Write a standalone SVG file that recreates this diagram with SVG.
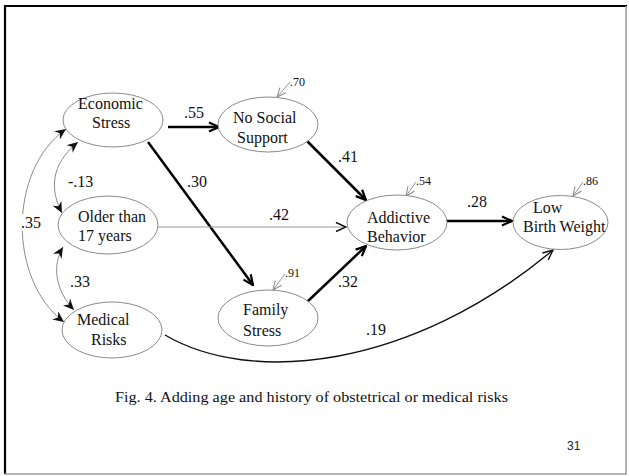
<svg xmlns="http://www.w3.org/2000/svg" width="629" height="476" viewBox="0 0 629 476">
  <defs>
    <style>
      .node ellipse { fill: #ffffff; stroke: #8a8a8a; stroke-width: 1; }
      .lbl { font-family: "Liberation Serif", "Times New Roman", serif; font-size: 16px; fill: #111; }
      .coef { font-family: "Liberation Serif", "Times New Roman", serif; font-size: 16px; fill: #111; }
      .err { font-family: "Liberation Serif", "Times New Roman", serif; font-size: 12px; fill: #111; }
      .thick { fill: none; stroke: #000; stroke-width: 2.5; }
      .thin { fill: none; stroke: #999; stroke-width: 1; }
      .corr { fill: none; stroke: #8c8c8c; stroke-width: 1; }
      .curve { fill: none; stroke: #111; stroke-width: 1.4; }
      .errline { fill: none; stroke: #888; stroke-width: 0.9; }
    </style>
    <marker id="headThick" markerUnits="userSpaceOnUse" viewBox="0 0 12 12" refX="11" refY="6" markerWidth="12" markerHeight="12" orient="auto">
      <path d="M1,1.5 L11,6 L1,10.5" fill="none" stroke="#000" stroke-width="2.2"/>
    </marker>
    <marker id="headMid" markerUnits="userSpaceOnUse" viewBox="0 0 12 12" refX="11" refY="6" markerWidth="12" markerHeight="12" orient="auto">
      <path d="M1,1.5 L11,6 L1,10.5" fill="none" stroke="#111" stroke-width="1.4"/>
    </marker>
    <marker id="headCorr" markerUnits="userSpaceOnUse" viewBox="0 0 12 10" refX="11" refY="5" markerWidth="12" markerHeight="10" orient="auto-start-reverse">
      <path d="M0,0 L11,5 L0,10 L3.5,5 z" fill="#111"/>
    </marker>
    <marker id="headErr" markerUnits="userSpaceOnUse" viewBox="0 0 10 10" refX="9.5" refY="5" markerWidth="10" markerHeight="10" orient="auto">
      <path d="M0.5,1 L9.5,5 L0.5,9" fill="none" stroke="#888" stroke-width="1"/>
    </marker>
  </defs>

  <rect x="0" y="0" width="629" height="476" fill="#ffffff"/>

  <!-- slide frame -->
  <path d="M5,474 L5,6 L627,6" fill="none" stroke="#000" stroke-width="2.2"/>
  <path d="M5,474 L626,474 L626,6" fill="none" stroke="#9a9a9a" stroke-width="1.5"/>

  <!-- connectors -->
  <g id="connectors">
    <!-- correlations -->
    <path class="corr" d="M66,129 C8,170 8,280 64,322" marker-start="url(#headCorr)" marker-end="url(#headCorr)"/>
    <path class="corr" d="M78,142 C50,165 50,190 62,213" marker-start="url(#headCorr)" marker-end="url(#headCorr)"/>
    <path class="corr" d="M63,247 C52,265 55,290 74,310" marker-start="url(#headCorr)" marker-end="url(#headCorr)"/>

    <!-- directed paths -->
    <path class="thick" d="M168,127 L219,127" marker-end="url(#headThick)"/>
    <path class="thick" d="M148,142 L253,285" marker-end="url(#headThick)"/>
    <path class="thick" d="M307,141 L366,200" marker-end="url(#headThick)"/>
    <path class="thin" d="M158,227 L346,227"/>
    <path d="M334,227 L346,227" fill="none" stroke="none" marker-end="url(#headMid)"/>
    <path class="thick" d="M307,302 L366,246" marker-end="url(#headThick)"/>
    <path class="thick" d="M447,221 L512,221" marker-end="url(#headThick)"/>
    <path class="curve" d="M165,335 C250,385 410,370 553,250" marker-end="url(#headMid)"/>

    <!-- residual errors -->
    <path class="errline" d="M290,82 L277,97" marker-end="url(#headErr)"/>
    <path class="errline" d="M416,182 L406,196" marker-end="url(#headErr)"/>
    <path class="errline" d="M583,182 L573,196" marker-end="url(#headErr)"/>
    <path class="errline" d="M285,274 L273,290" marker-end="url(#headErr)"/>
  </g>

  <!-- path coefficients -->
  <g id="coefficients">
    <text class="coef" x="184" y="118">.55</text>
    <text class="coef" x="187" y="187">.30</text>
    <text class="coef" x="338" y="162">.41</text>
    <text class="coef" x="269" y="220">.42</text>
    <text class="coef" x="338" y="287">.32</text>
    <text class="coef" x="467" y="207">.28</text>
    <text class="coef" x="366" y="335">.19</text>
    <text class="coef" x="68" y="187">-.13</text>
    <text class="coef" x="70" y="287">.33</text>
    <rect x="20" y="214" width="22" height="17" fill="#ffffff"/>
    <text class="coef" x="21" y="228">.35</text>
    <text class="err" x="290" y="86">.70</text>
    <text class="err" x="416" y="185">.54</text>
    <text class="err" x="583" y="185">.86</text>
    <text class="err" x="285" y="277">.91</text>
  </g>

  <!-- nodes -->
  <g id="economic-stress" class="node">
    <ellipse cx="113" cy="120" rx="50" ry="27"/>
    <text class="lbl" x="78" y="109">Economic</text>
    <text class="lbl" x="92" y="128">Stress</text>
  </g>
  <g id="no-social-support" class="node">
    <ellipse cx="268" cy="124.5" rx="50" ry="27.5"/>
    <text class="lbl" x="233" y="123">No Social</text>
    <text class="lbl" x="237" y="143">Support</text>
  </g>
  <g id="older-than-17" class="node">
    <ellipse cx="108" cy="225" rx="50" ry="29"/>
    <text class="lbl" x="78" y="222">Older than</text>
    <text class="lbl" x="78" y="241">17 years</text>
  </g>
  <g id="medical-risks" class="node">
    <ellipse cx="112" cy="330" rx="50" ry="28"/>
    <text class="lbl" x="77" y="325">Medical</text>
    <text class="lbl" x="91" y="345">Risks</text>
  </g>
  <g id="family-stress" class="node">
    <ellipse cx="268" cy="318" rx="50" ry="28"/>
    <text class="lbl" x="243" y="315">Family</text>
    <text class="lbl" x="243" y="336">Stress</text>
  </g>
  <g id="addictive-behavior" class="node">
    <ellipse cx="397" cy="222.5" rx="50" ry="27.5"/>
    <text class="lbl" x="367" y="223">Addictive</text>
    <text class="lbl" x="367" y="242">Behavior</text>
  </g>
  <g id="low-birth-weight" class="node">
    <ellipse cx="560.5" cy="222.5" rx="47.5" ry="27"/>
    <text class="lbl" x="533" y="213">Low</text>
    <text class="lbl" x="523" y="232">Birth Weight</text>
  </g>

  <!-- caption and page number -->
  <text x="115" y="402" textLength="393" lengthAdjust="spacingAndGlyphs" style="font-family: 'Liberation Serif', 'Times New Roman', serif; font-size: 14px; fill: #111;">Fig. 4. Adding age and history of obstetrical or medical risks</text>
  <text x="567" y="450" style="font-family: 'Liberation Sans', Arial, sans-serif; font-size: 12px; fill: #222;">31</text>
</svg>
